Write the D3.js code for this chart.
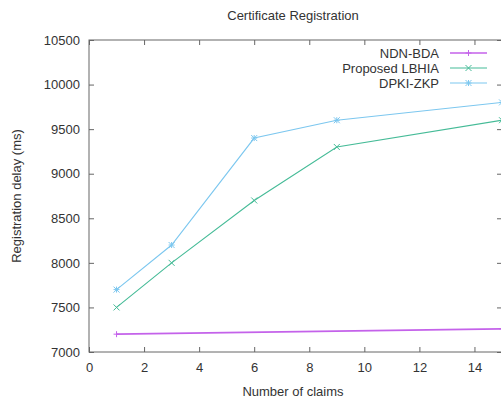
<!DOCTYPE html>
<html>
<head>
<meta charset="utf-8">
<script src="https://cdn.jsdelivr.net/npm/d3@7"></script>
<style>
  html, body { margin: 0; padding: 0; background: #fff; }
  svg { display: block; font-family: "Liberation Sans", Arial, sans-serif; }
</style>
</head>
<body>
<svg id="chart" width="501" height="400"></svg>
<script>
// Registration delay per number of claims
const ndnX = [1, 15];
const ndnY = [7200, 7260];
const claims = [1, 3, 6, 9, 15];
const lbhiaY = [7500, 8000, 8700, 9300, 9600];
const dpkiY = [7700, 8200, 9400, 9600, 9800];
const seriesNames = ["NDN-BDA", "Proposed LBHIA", "DPKI-ZKP"];
const xTicks = [0, 2, 4, 6, 8, 10, 12, 14];
const yTicks = [7000, 7500, 8000, 8500, 9000, 9500, 10000, 10500];

const svg = d3.select("#chart");
const plotLeft = 89, plotRight = 502, plotTop = 40, plotBottom = 352;
const fontSize = 13;

const x = d3.scaleLinear().domain([0, 15]).range([plotLeft, plotRight]);
const y = d3.scaleLinear().domain([7000, 10500]).range([plotBottom, plotTop]);

const axisColor = "#666";
const textColor = "#333";

// Plot border
svg.append("rect")
  .attr("x", plotLeft).attr("y", plotTop)
  .attr("width", plotRight - plotLeft).attr("height", plotBottom - plotTop)
  .attr("fill", "none").attr("stroke", axisColor).attr("stroke-width", 1);

// Axes with inward ticks
const xAxis = svg.append("g").attr("transform", `translate(0,${plotBottom})`)
  .call(d3.axisBottom(x).tickValues(xTicks).tickFormat(d3.format("d"))
    .tickSizeInner(-5).tickSizeOuter(0).tickPadding(11));
const xAxisTop = svg.append("g").attr("transform", `translate(0,${plotTop})`)
  .call(d3.axisTop(x).tickValues(xTicks).tickSizeInner(-5).tickSizeOuter(0).tickFormat(""));
const yAxis = svg.append("g").attr("transform", `translate(${plotLeft},0)`)
  .call(d3.axisLeft(y).tickValues(yTicks).tickFormat(d3.format("d"))
    .tickSizeInner(-5).tickSizeOuter(0).tickPadding(9));
const yAxisRight = svg.append("g").attr("transform", `translate(${plotRight},0)`)
  .call(d3.axisRight(y).tickValues(yTicks).tickSizeInner(-5).tickSizeOuter(0).tickFormat(""));

[xAxis, xAxisTop, yAxis, yAxisRight].forEach(g => {
  g.select(".domain").remove();
  g.selectAll(".tick line").attr("stroke", axisColor);
  g.selectAll("text").attr("fill", textColor)
    .attr("font-size", fontSize)
    .attr("font-family", "Liberation Sans, Arial, sans-serif");
});

// Titles
svg.append("text").attr("x", 293).attr("y", 20).attr("text-anchor", "middle")
  .attr("font-size", fontSize).attr("fill", textColor).text("Certificate Registration");
svg.append("text").attr("x", 293).attr("y", 396).attr("text-anchor", "middle")
  .attr("font-size", fontSize).attr("fill", textColor).text("Number of claims");
svg.append("text").attr("transform", `translate(21,196) rotate(-90)`)
  .attr("text-anchor", "middle").attr("font-size", fontSize).attr("fill", textColor)
  .text("Registration delay (ms)");

// Point markers: plus, cross, and star (plus + cross)
function marker(g, type, cx, cy, color, s) {
  const paths = {
    plus: `M${cx - s},${cy}H${cx + s}M${cx},${cy - s}V${cy + s}`,
    cross: `M${cx - s},${cy - s}L${cx + s},${cy + s}M${cx - s},${cy + s}L${cx + s},${cy - s}`,
  };
  const d = type === "star" ? paths.plus + paths.cross : paths[type];
  g.append("path").attr("d", d).attr("stroke", color).attr("stroke-width", 1).attr("fill", "none");
}

const series = [
  { name: seriesNames[0], xs: ndnX, ys: ndnY, color: "#c462ea", width: 1.6, mark: "plus" },
  { name: seriesNames[1], xs: claims, ys: lbhiaY, color: "#45bb97", width: 1.1, mark: "cross" },
  { name: seriesNames[2], xs: claims, ys: dpkiY, color: "#7cc7ef", width: 1.1, mark: "star" },
];

const line = d3.line().x(d => x(d[0])).y(d => y(d[1]));
const plot = svg.append("g");

series.forEach(s => {
  const pts = s.xs.map((v, i) => [v, s.ys[i]]);
  plot.append("path").datum(pts).attr("d", line)
    .attr("fill", "none").attr("stroke", s.color).attr("stroke-width", s.width);
  pts.forEach(p => marker(plot, s.mark, x(p[0]), y(p[1]), s.color, 3));
});

// Legend
const legend = svg.append("g");
series.forEach((s, i) => {
  const ly = 53 + i * 15;
  legend.append("text").attr("x", 439).attr("y", ly + 4.5).attr("text-anchor", "end")
    .attr("font-size", fontSize).attr("fill", textColor).text(s.name);
  legend.append("line").attr("x1", 450).attr("x2", 487).attr("y1", ly).attr("y2", ly)
    .attr("stroke", s.color).attr("stroke-width", s.width);
  marker(legend, s.mark, 468.5, ly, s.color, 3);
});
</script>
</body>
</html>
